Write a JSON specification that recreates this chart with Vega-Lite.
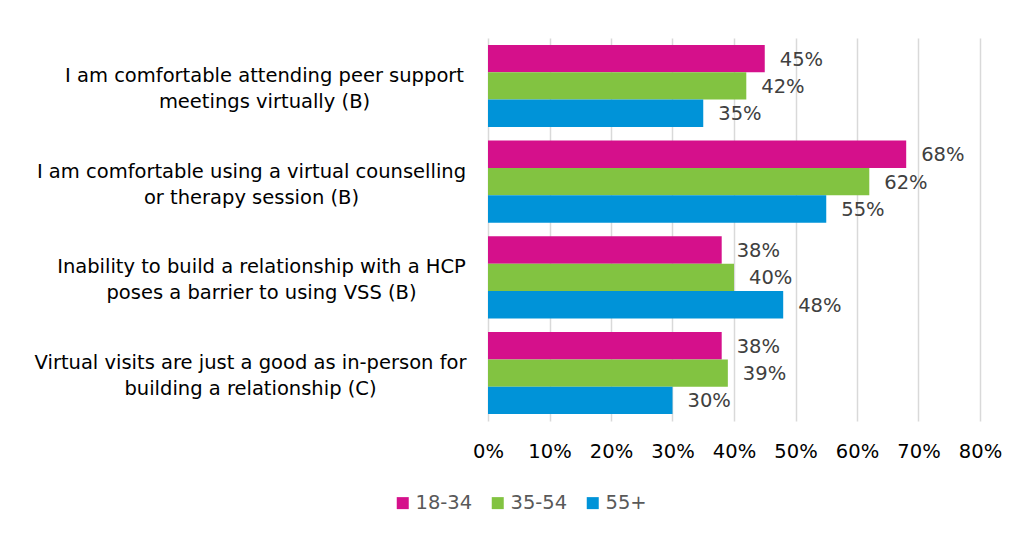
{
  "$schema": "https://vega.github.io/schema/vega-lite/v6.json",
  "autosize": {"type": "none"},
  "width": 492,
  "height": 383,
  "padding": {"left": 488, "top": 38, "right": 38, "bottom": 114},
  "background": "white",
  "config": {
    "view": {"stroke": null},
    "font": "DejaVu Sans"
  },
  "data": {
    "values": [
      {"q": "I am comfortable attending peer support|meetings virtually (B)", "age": "18-34", "v": 0.45},
      {"q": "I am comfortable attending peer support|meetings virtually (B)", "age": "35-54", "v": 0.42},
      {"q": "I am comfortable attending peer support|meetings virtually (B)", "age": "55+", "v": 0.35},
      {"q": "I am comfortable using a virtual counselling|or therapy session (B)", "age": "18-34", "v": 0.68},
      {"q": "I am comfortable using a virtual counselling|or therapy session (B)", "age": "35-54", "v": 0.62},
      {"q": "I am comfortable using a virtual counselling|or therapy session (B)", "age": "55+", "v": 0.55},
      {"q": "Inability to build a relationship with a HCP|poses a barrier to using VSS (B)", "age": "18-34", "v": 0.38},
      {"q": "Inability to build a relationship with a HCP|poses a barrier to using VSS (B)", "age": "35-54", "v": 0.40},
      {"q": "Inability to build a relationship with a HCP|poses a barrier to using VSS (B)", "age": "55+", "v": 0.48},
      {"q": "Virtual visits are just a good as in-person for|building a relationship (C)", "age": "18-34", "v": 0.38},
      {"q": "Virtual visits are just a good as in-person for|building a relationship (C)", "age": "35-54", "v": 0.39},
      {"q": "Virtual visits are just a good as in-person for|building a relationship (C)", "age": "55+", "v": 0.30}
    ]
  },
  "encoding": {
    "y": {
      "field": "q", "type": "nominal", "sort": null, "title": null,
      "scale": {"paddingInner": 0.143, "paddingOuter": 0.072},
      "axis": {
        "domain": false, "ticks": false, "grid": false,
        "labelPadding": {
          "condition": [
            {"test": "indexof(datum.value, 'counselling') >= 0", "value": 237},
            {"test": "indexof(datum.value, 'Inability') >= 0", "value": 227},
            {"test": "indexof(datum.value, 'Virtual visits') >= 0", "value": 238}
          ],
          "value": 224
        },
        "labelAlign": "center", "labelBaseline": "middle", "labelOffset": -10,
        "labelFontSize": 19.5, "labelColor": "#000000", "labelLimit": 0,
        "labelLineHeight": 26,
        "labelExpr": "split(datum.label, '|')"
      }
    },
    "yOffset": {"field": "age", "type": "nominal", "sort": ["18-34", "35-54", "55+"], "scale": {"paddingInner": 0, "paddingOuter": 0}},
    "x": {
      "field": "v", "type": "quantitative", "title": null,
      "scale": {"domain": [0, 0.8], "nice": false},
      "axis": {
        "format": ".0%", "values": [0, 0.1, 0.2, 0.3, 0.4, 0.5, 0.6, 0.7, 0.8],
        "domain": false, "ticks": false, "labelOverlap": false,
        "grid": true, "gridColor": "#D9D9D9", "gridWidth": 1.5,
        "labelFontSize": 19.5, "labelColor": "#000000", "labelPadding": 21,
        "labelFlush": false
      }
    }
  },
  "layer": [
    {
      "mark": {"type": "bar"},
      "encoding": {
        "color": {
          "field": "age", "type": "nominal", "title": null,
          "scale": {"domain": ["18-34", "35-54", "55+"], "range": ["#D5108B", "#82C341", "#0093D8"]},
          "legend": {
            "orient": "none", "direction": "horizontal", "legendX": -95, "legendY": 455,
            "symbolType": "square", "symbolSize": 144, "symbolStrokeWidth": 0,
            "labelFontSize": 19.5, "labelColor": "#595959", "columnPadding": 15, "labelOffset": 3
          }
        }
      }
    },
    {
      "mark": {"type": "text", "align": "left", "baseline": "middle", "dx": 15, "dy": 1, "fontSize": 19.5, "color": "#404040"},
      "encoding": {
        "text": {"field": "v", "type": "quantitative", "format": ".0%"}
      }
    }
  ]
}
